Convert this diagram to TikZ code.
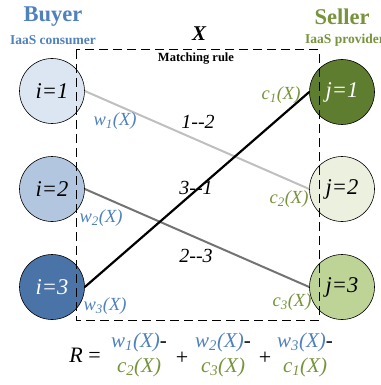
\documentclass[tikz,border=0pt]{standalone}
\usepackage{fontspec}
\setmainfont{Liberation Serif}
\definecolor{wblue}{HTML}{4F81BD}
\definecolor{cgreen}{HTML}{77933C}
\definecolor{fa}{HTML}{DCE6F2}
\definecolor{fb}{HTML}{B3C6E0}
\definecolor{fc}{HTML}{4A74A8}
\definecolor{ga}{HTML}{5F7D2F}
\definecolor{gb}{HTML}{EBF1DE}
\definecolor{gc}{HTML}{BDD496}
\begin{document}
\begin{tikzpicture}[x=1pt,y=-1pt,
  agent/.style={circle,draw=black,line width=0.6pt,minimum size=65pt,inner sep=0pt,font=\fontsize{22.5}{22.5}\selectfont\itshape},
  wlab/.style={text=wblue,font=\fontsize{18.5}{18.5}\selectfont\itshape,inner sep=1pt},
  clab/.style={text=cgreen,font=\fontsize{18.5}{18.5}\selectfont\itshape,inner sep=1pt},
  pairlab/.style={font=\fontsize{20}{20}\selectfont\itshape,inner sep=1pt},
  frac/.style={align=center,font=\fontsize{21}{25}\selectfont\itshape,inner sep=0pt}]
\useasboundingbox (0,0) rectangle (380,385);
% titles
\node[text=wblue,font=\fontsize{22.5}{22.5}\selectfont\bfseries] (buyer) at (53,17) {Buyer};
\node[text=wblue,font=\fontsize{13.5}{13.5}\selectfont\bfseries] (cons) at (53,40) {IaaS consumer};
\node[text=cgreen,font=\fontsize{22.5}{22.5}\selectfont\bfseries] (seller) at (342,17) {Seller};
\node[text=cgreen,font=\fontsize{13.5}{13.5}\selectfont\bfseries] (prov) at (345,40) {IaaS provider};
\node[font=\fontsize{21}{21}\selectfont\bfseries\itshape] (X) at (199,34) {X};
\node[font=\fontsize{12.5}{12.5}\selectfont\bfseries] (rule) at (196,59) {Matching rule};
% agents
\node[agent,fill=fa] (i1) at (52,91) {i=1};
\node[agent,fill=fb] (i2) at (52,189) {i=2};
\node[agent,fill=fc,text=white] (i3) at (52,287) {i=3};
\node[agent,fill=ga,text=white] (j1) at (342,92) {j=1};
\node[agent,fill=gb] (j2) at (342,189) {j=2};
\node[agent,fill=gc] (j3) at (342,287) {j=3};
% dashed box
\coordinate (tl) at (76,50);
\coordinate (br) at (319,320);
\draw[dash pattern=on 9pt off 5pt,line width=1pt] (tl) rectangle (br);
% connectors
\draw[line width=2pt,black!25] (i1.east) -- (j2.west);
\draw[line width=2pt,black!55] (i2.east) -- (j3.west);
\draw[line width=2.2pt,black] (i3.east) -- (j1.west);
% labels
\node[wlab] (w1) at (115,121) {w\textsubscript{1}(X)};
\node[wlab] (w2) at (101,218) {w\textsubscript{2}(X)};
\node[wlab] (w3) at (105,306) {w\textsubscript{3}(X)};
\node[clab] (c1) at (281,95) {c\textsubscript{1}(X)};
\node[clab] (c2) at (289,199) {c\textsubscript{2}(X)};
\node[clab] (c3) at (292,302) {c\textsubscript{3}(X)};
\node[pairlab] (p12) at (198,122) {1{-}{-}2};
\node[pairlab] (p31) at (196,188) {3{-}{-}1};
\node[pairlab] (p23) at (196,256) {2{-}{-}3};
% formula
\node[font=\fontsize{22}{22}\selectfont] (R) at (85,355) {\textit{R} =};
\node[frac] (f1) at (139,355) {\textcolor{wblue}{w\textsubscript{1}(X)}-\\\textcolor{cgreen}{c\textsubscript{2}(X)}};
\node[font=\fontsize{22}{22}\selectfont] (pl1) at (182,358) {+};
\node[frac] (f2) at (223,355) {\textcolor{wblue}{w\textsubscript{2}(X)}-\\\textcolor{cgreen}{c\textsubscript{3}(X)}};
\node[font=\fontsize{22}{22}\selectfont] (pl2) at (265,358) {+};
\node[frac] (f3) at (305,355) {\textcolor{wblue}{w\textsubscript{3}(X)}-\\\textcolor{cgreen}{c\textsubscript{1}(X)}};
\end{tikzpicture}
\end{document}
